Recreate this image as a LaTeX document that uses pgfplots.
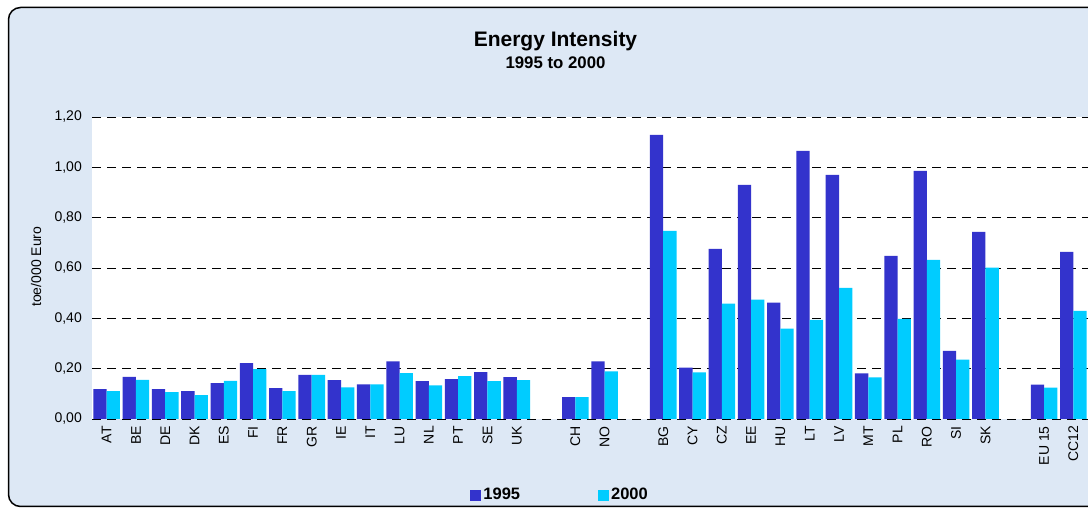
\documentclass[border=0pt]{standalone}
\usepackage{fontspec}
\setmainfont{Liberation Sans}
\usepackage{pgfplots}
\pgfplotsset{compat=1.18}
\definecolor{darkbar}{RGB}{51,51,204}
\definecolor{cyanbar}{RGB}{0,204,255}
\definecolor{bgblue}{RGB}{221,232,245}
\pgfplotstableread{
x    a     b
0    0.119 0.111
1    0.167 0.155
2    0.119 0.107
3    0.111 0.095
4    0.143 0.151
5    0.222 0.198
6    0.123 0.111
7    0.175 0.175
8    0.154 0.126
9    0.138 0.138
10   0.229 0.182
11   0.150 0.134
12   0.158 0.170
13   0.186 0.150
14   0.166 0.154
16   0.087 0.087
17   0.229 0.189
19   1.129 0.748
20   0.204 0.185
21   0.676 0.458
22   0.930 0.474
23   0.462 0.359
24   1.065 0.394
25   0.970 0.521
26   0.181 0.165
27   0.648 0.398
28   0.986 0.632
29   0.271 0.236
30   0.744 0.601
32   0.137 0.125
33   0.664 0.430
}\datatable
\begin{document}
\begin{tikzpicture}[x=1pt,y=1pt]
\useasboundingbox (0,0) rectangle (1088,509);
\begin{scope}
\clip (0,0) rectangle (1088,509);
\draw[line width=1.5pt, fill=bgblue, rounded corners=12pt] (8.5,2.5) rectangle (1110,501.5);
\end{scope}
\node[font=\bfseries\fontsize{21}{25}\selectfont, anchor=base] at (555.5,462.3) {Energy Intensity};
\node[font=\bfseries\fontsize{16.8}{19}\selectfont, anchor=base] at (555.5,440.7) {1995 to 2000};
\node[font=\fontsize{14}{16}\selectfont, rotate=90] at (36,242.3) {toe/000 Euro};
\begin{axis}[
  at={(92pt,90pt)}, anchor=south west,
  width=996pt, height=302pt, scale only axis,
  xmin=-0.5, xmax=33.5, ymin=0, ymax=1.2,
  axis background/.style={fill=white},
  axis line style={draw=none},
  major tick length=0pt,
  ymajorgrids,
  grid style={black, line width=0.8pt, dash pattern=on 9pt off 6pt},
  ytick={0,0.2,0.4,0.6,0.8,1.0,1.2},
  yticklabel style={/pgf/number format/fixed, /pgf/number format/fixed zerofill, /pgf/number format/precision=2, /pgf/number format/use comma, /pgf/number format/assume math mode=true, font=\fontsize{14}{16}\selectfont, inner sep=0pt},
  yticklabel shift=10pt,
  xtick={0,1,2,3,4,5,6,7,8,9,10,11,12,13,14,16,17,19,20,21,22,23,24,25,26,27,28,29,30,32,33},
  xticklabels={AT,BE,DE,DK,ES,FI,FR,GR,IE,IT,LU,NL,PT,SE,UK,CH,NO,BG,CY,CZ,EE,HU,LT,LV,MT,PL,RO,SI,SK,EU 15,CC12},
  xticklabel style={rotate=90, anchor=east, inner sep=0pt, font=\fontsize{14}{16}\selectfont},
  xticklabel shift=7pt,
  ybar=0pt, bar width=13.3pt,
  legend columns=2,
  legend style={at={(0.470,-0.250)}, anchor=center, draw=none, fill=none,
    font=\bfseries\fontsize{16.5}{18}\selectfont,
    /tikz/every even column/.append style={column sep=76pt},
    nodes={inner sep=2pt}},
  legend image code/.code={\fill[#1] (0pt,-6.5pt) rectangle (11pt,4.5pt);},
]
\addplot[draw=none, fill=darkbar] table[x=x, y=a] {\datatable};
\addplot[draw=none, fill=cyanbar] table[x=x, y=b] {\datatable};
\legend{1995,2000}
\end{axis}
\end{tikzpicture}
\end{document}
